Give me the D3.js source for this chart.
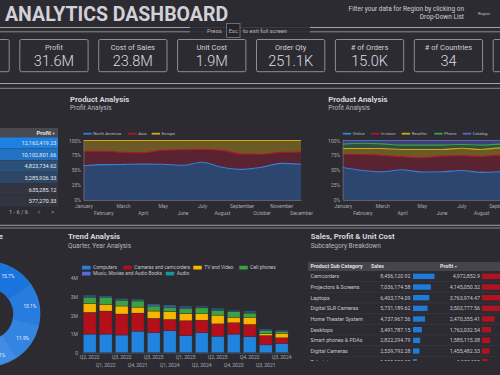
<!DOCTYPE html>
<html><head><meta charset="utf-8">
<script src="https://cdn.jsdelivr.net/npm/d3@7"></script>
<style>
html,body{margin:0;padding:0;background:#2c2b32;overflow:hidden}
svg{display:block;font-family:Roboto,"Noto Sans",sans-serif}
</style></head><body>
<svg id="c" width="500" height="375"></svg>
<script>
// ---------- DATA ----------
const kpiLabels = ["Profit","Cost of Sales","Unit Cost","Order Qty","# of Orders","# of Countries"];
const kpiValues = ["31.6M","23.8M","1.9M","251.1K","15.0K","34"];

const topProfit = [12162419.23, 10102801.66, 4823734.62, 3285926.33, 635285.12, 577270.33];

const months = ["January","February","March","April","May","June","July","August","September","October","November","December"];
const regionNames = ["North America","Asia","Europe"];
const northAmerica = [57.5, 59.5, 59.8, 60.3, 60.2, 58.3, 63.5, 55.0, 51.5, 55.0, 61.5, 60.0];
const asia         = [24.5, 22.5, 20.2, 19.2, 23.2, 26.2, 21.5, 28.4, 25.8, 22.0, 18.5, 20.7];
const europe       = [18.0, 18.0, 20.0, 20.5, 16.6, 15.5, 15.0, 16.6, 22.7, 23.0, 20.0, 19.3];

const channelNames = ["Online","In-store","Reseller","Phone","Catalog"];
const online   = [54.7, 49.7, 47.5, 50.8, 47.0, 47.5, 49.7, 46.4, 47.5, 48.2, 47.1, 48.9];
const inStore  = [22.3, 26.8, 27.4, 21.8, 24.0, 26.2, 24.6, 26.8, 27.9, 25.5, 26.4, 25.3];
const reseller = [ 9.6, 10.1, 11.7, 12.4, 14.0, 11.3, 12.7, 11.8, 12.3, 11.8, 12.0, 11.4];
const phone    = [ 7.3,  8.9,  7.8,  7.2,  7.2,  7.2,  6.3,  7.2,  6.2,  6.8,  7.0,  6.9];
const catalog  = [ 6.1,  4.5,  5.6,  7.8,  7.8,  7.8,  6.7,  7.8,  6.1,  7.7,  7.5,  7.5];

const donutShares = [15.7, 13.1, 11.9, 10.1, 9.8, 9.2, 8.6, 8.1, 7.4, 6.1];

const quarters = ["Q2, 2022","Q1, 2022","Q3, 2022","Q4, 2021","Q3, 2023","Q1, 2024","Q1, 2023","Q2, 2024","Q2, 2023","Q4, 2023","Q4, 2022","Q3, 2021","Q3, 2024"];
const productCats = ["Computers","Cameras and camcorders","TV and Video","Cell phones","Music, Movies and Audio Books","Audio"];
const computers = [1.00, 1.00, 0.95, 1.16, 1.08, 1.18, 0.91, 1.07, 0.89, 1.00, 0.86, 0.42, 0.50];
const cameras   = [1.17, 1.24, 1.13, 0.97, 0.77, 0.61, 0.81, 0.68, 0.66, 0.61, 0.66, 0.50, 0.30];
const tvVideo   = [0.48, 0.36, 0.43, 0.32, 0.39, 0.41, 0.39, 0.34, 0.47, 0.30, 0.39, 0.10, 0.25];
const cellPhones= [0.32, 0.36, 0.29, 0.33, 0.27, 0.24, 0.26, 0.32, 0.25, 0.30, 0.22, 0.17, 0.11];
const music     = [0.07, 0.05, 0.05, 0.05, 0.06, 0.07, 0.07, 0.04, 0.06, 0.03, 0.05, 0.04, 0.02];
const audio     = [0.04, 0.04, 0.05, 0.04, 0.05, 0.05, 0.05, 0.04, 0.05, 0.03, 0.05, 0.03, 0.02];
const barTicks = ["0","1M","2M","3M","4M"];

const subCategories = ["Camcorders","Projectors & Screens","Laptops","Digital SLR Cameras","Home Theater System","Desktops","Smart phones & PDAs","Digital Cameras","Televisions"];
const subSales  = [8456120.92, 7036174.58, 6403174.09, 5731189.62, 4737967.56, 3491787.15, 2822294.79, 2539792.28, 1500000.00];
const subProfit = [4972852.90, 4145050.32, 3763974.47, 3503777.56, 2470355.41, 1762032.54, 1585115.38, 1455482.33, 1100000.00];

// ---------- DRAW ----------
const svg = d3.select("#c");
const BG = "#2c2b32", TXT = "#d6d5dc", SUB = "#b9b8bf", AX = "#a9a8ae";
svg.append("rect").attr("width",500).attr("height",375).attr("fill",BG);

// header
svg.append("text").attr("x",5).attr("y",21).attr("fill","#d2d1d8").attr("font-size",19.5).attr("font-weight",700).text("ANALYTICS DASHBOARD");
svg.append("text").attr("x",464).attr("y",11).attr("text-anchor","end").attr("fill","#cfcfd4").attr("font-size",6.5).text("Filter your data for Region by clicking on");
svg.append("text").attr("x",464).attr("y",18.5).attr("text-anchor","end").attr("fill","#cfcfd4").attr("font-size",6.5).text("Drop-Down List");
svg.append("text").attr("x",478).attr("y",14.5).attr("fill","#bdbcc2").attr("font-size",4).text("Region");

function hline(y,c){svg.append("line").attr("x1",0).attr("x2",500).attr("y1",y).attr("y2",y).attr("stroke",c).attr("stroke-width",1);}
hline(27.5,"#a3a2a8"); hline(31.8,"#8e8d93");
hline(83.5,"#a3a2a8"); hline(88.3,"#88878d");
hline(225.3,"#a3a2a8"); hline(228,"#88878d");

// esc overlay
svg.append("rect").attr("x",190).attr("y",25).attr("width",120).attr("height",11).attr("fill","#2a292f").attr("opacity",0.85);
svg.append("text").attr("x",207).attr("y",33).attr("fill","#b5b4ba").attr("font-size",5.8).text("Press");
svg.append("rect").attr("x",226.7).attr("y",23.5).attr("width",13.3).attr("height",14).attr("fill","#242329").attr("stroke","#8a898f").attr("stroke-width",0.7);
svg.append("text").attr("x",233.3).attr("y",33).attr("text-anchor","middle").attr("fill","#b5b4ba").attr("font-size",5.8).text("Esc");
svg.append("text").attr("x",243).attr("y",33).attr("fill","#b5b4ba").attr("font-size",5.8).text("to exit full screen");

// KPI cards
const cardStep = 78.9, cardW = 68.3;
const cardX = i => 19.3 + cardStep*i;
[-1,6].forEach(i=>svg.append("rect").attr("x",cardX(i)+0.5).attr("y",39.5).attr("width",cardW).attr("height",32.2).attr("rx",1.5).attr("fill","none").attr("stroke","#8f8e95"));
kpiLabels.forEach((l,i)=>{
  const g = svg.append("g");
  g.append("rect").attr("x",cardX(i)+0.5).attr("y",39.5).attr("width",cardW).attr("height",32.2).attr("rx",1.5).attr("fill","none").attr("stroke","#8f8e95");
  g.append("text").attr("x",cardX(i)+cardW/2+0.5).attr("y",49.5).attr("text-anchor","middle").attr("fill","#d0cfd5").attr("font-size",7.5).text(l);
  g.append("text").attr("x",cardX(i)+cardW/2+0.5).attr("y",66).attr("text-anchor","middle").attr("fill","#dcdbe0").attr("font-size",14.5).attr("font-weight",300).text(kpiValues[i]);
});

// ---------- top-left table ----------
const rowH1 = 11.6, hdrY = 128;
svg.append("rect").attr("x",0).attr("y",hdrY).attr("width",58).attr("height",9.3).attr("fill","#4a4950");
svg.append("text").attr("x",51).attr("y",135.3).attr("text-anchor","end").attr("fill","#e2e1e6").attr("font-size",5.8).attr("font-weight",700).text("Profit");
svg.append("text").attr("x",55.5).attr("y",135.2).attr("text-anchor","end").attr("fill","#c9c8ce").attr("font-size",4).text("▼");
const heat = d3.scaleLinear().domain([d3.min(topProfit), d3.max(topProfit)]).range(["#33343f","#1e80e0"]);
const fmt2 = d3.format(",.2f");
topProfit.forEach((v,i)=>{
  const y = hdrY + 9.3 + i*rowH1;
  svg.append("rect").attr("x",0).attr("y",y).attr("width",58).attr("height",rowH1).attr("fill",heat(v));
  svg.append("line").attr("x1",0).attr("x2",58).attr("y1",y+rowH1).attr("y2",y+rowH1).attr("stroke","#2c2b32").attr("stroke-width",0.5);
  svg.append("text").attr("x",56.5).attr("y",y+rowH1/2+2).attr("text-anchor","end").attr("fill","#e6e6ea").attr("font-size",5.6).text(fmt2(v));
});
svg.append("text").attr("x",9).attr("y",214).attr("fill","#b3b2b8").attr("font-size",5.6).text("1 - 6 / 6");
svg.append("text").attr("x",37.5).attr("y",214).attr("fill","#8d8c92").attr("font-size",6).text("<");
svg.append("text").attr("x",51).attr("y",214).attr("fill","#a9a8ae").attr("font-size",6).text(">");

// ---------- area charts ----------
function titles(x,y,t,s){
  svg.append("text").attr("x",x).attr("y",y).attr("fill",TXT).attr("font-size",7.8).attr("font-weight",700).text(t);
  svg.append("text").attr("x",x).attr("y",y+8.2).attr("fill",SUB).attr("font-size",6.5).text(s);
}
titles(70,101.5,"Product Analysis","Profit Analysis");
titles(328.3,101.5,"Product Analysis","Profit Analysis");

function areaChart(x0, names, series, colors, legendX){
  const top = 140.5, bot = 200;
  const rows = months.map((m,i)=>{const o={month:m}; names.forEach((n,k)=>o[n]=series[k][i]); return o;});
  const stack = d3.stack().keys(names).offset(d3.stackOffsetExpand)(rows);
  const x = d3.scalePoint().domain(months).range([x0, x0+217.5]);
  const y = d3.scaleLinear().domain([0,1]).range([bot, top]);
  const g = svg.append("g");
  const area = d3.area().x(d=>x(d.data.month)).y0(d=>y(d[0])).y1(d=>y(d[1])).curve(d3.curveMonotoneX);
  const line = d3.line().x(d=>x(d.data.month)).y(d=>y(d[1])).curve(d3.curveMonotoneX);
  stack.forEach((s,k)=>{
    g.append("path").datum(s).attr("d",area).attr("fill",colors[k].f);
  });
  stack.forEach((s,k)=>{
    g.append("path").datum(s).attr("d",line).attr("fill","none").attr("stroke",colors[k].s).attr("stroke-width",1.1);
  });
  // axes
  const ya = d3.axisLeft(y).tickValues([0,0.25,0.5,0.75,1]).tickFormat(d3.format(".0%")).tickSize(0).tickPadding(2.5);
  const ga = g.append("g").attr("transform",`translate(${x0},0)`).call(ya);
  ga.select(".domain").attr("stroke","#6d6c73").attr("stroke-width",0.8);
  ga.selectAll("text").attr("fill",AX).attr("font-size",5).attr("font-family","Roboto");
  const xa = d3.axisBottom(x).tickSize(0).tickPadding(0);
  const gx = g.append("g").attr("transform",`translate(0,${bot})`).call(xa);
  gx.select(".domain").attr("stroke","#6d6c73").attr("stroke-width",0.8);
  gx.selectAll("text").attr("fill",AX).attr("font-size",5).attr("font-family","Roboto")
    .attr("dy",null).attr("y",(d,i)=> i%2===0 ? 7.8 : 14.5);
  // legend
  names.forEach((n,k)=>{
    svg.append("rect").attr("x",legendX[k]).attr("y",132.8).attr("width",8.4).attr("height",1.8).attr("fill",colors[k].s);
    svg.append("text").attr("x",legendX[k]+10).attr("y",135.2).attr("fill","#b9b8be").attr("font-size",4.3).text(n);
  });
}
const cBlue = {f:"#2c4670", s:"#3a7fd6"}, cRed = {f:"#5a2331", s:"#b3142a"}, cYel = {f:"#6c5a26", s:"#d2a81a"},
      cGrn = {f:"#2f5139", s:"#3ba34a"}, cPur = {f:"#3e4070", s:"#5b63c9"};
areaChart(83.5, regionNames, [northAmerica, asia, europe], [cBlue,cRed,cYel], [83.3,128.3,151.7]);
areaChart(342.7, channelNames, [online,inStore,reseller,phone,catalog], [cBlue,cRed,cYel,cGrn,cPur], [342.7,371,401.7,434.3,462.7]);

// ---------- donut ----------
svg.append("text").attr("x",3).attr("y",238.5).attr("text-anchor","end").attr("fill",TXT).attr("font-size",7.8).attr("font-weight",700).text("Category Share");
const pie = d3.pie().sort(null).value(d=>d)(donutShares);
const arc = d3.arc().innerRadius(26).outerRadius(52.5);
const lab = d3.arc().innerRadius(43).outerRadius(43);
const dcol = d3.scaleLinear().domain([0, donutShares.length-1]).range(["#1a74de","#8ec0f2"]);
const dg = svg.append("g").attr("transform","translate(-12.5,314)");
dg.selectAll("path").data(pie).join("path").attr("d",arc).attr("fill",(d,i)=>dcol(i)).attr("stroke","#4d96e6").attr("stroke-width",0.4);
dg.selectAll("text").data(pie).join("text").attr("transform",d=>`translate(${lab.centroid(d)})`).attr("text-anchor","middle").attr("dy","0.35em")
  .attr("fill","#eef4fb").attr("font-size",4.8).text(d=>d.data.toFixed(1)+"%");

// ---------- trend bars ----------
titles(68,239.3,"Trend Analysis","Quarter, Year Analysis");
const barColors = ["#2184dc","#b3101c","#f7b500","#3ba141","#5a6ad8","#13979c"];
const seriesB = [computers,cameras,tvVideo,cellPhones,music,audio];
const rowsB = quarters.map((q,i)=>{const o={q}; productCats.forEach((c,k)=>o[c]=seriesB[k][i]); return o;});
const stB = d3.stack().keys(productCats)(rowsB);
const xb = d3.scaleBand().domain(quarters).range([81.7,289.7]).paddingInner(0.2).paddingOuter(0.1);
const yb = d3.scaleLinear().domain([0,4]).range([352.7,278.3]);
const bg = svg.append("g");
stB.forEach((s,k)=>{
  bg.append("g").selectAll("rect").data(s).join("rect")
    .attr("x",d=>xb(d.data.q)).attr("width",xb.bandwidth())
    .attr("y",d=>yb(d[1])).attr("height",d=>Math.max(0,yb(d[0])-yb(d[1])))
    .attr("fill",barColors[k]).attr("stroke",BG).attr("stroke-width",0.35);
});
const yax = svg.append("g").attr("transform","translate(78,0)").call(d3.axisLeft(yb).tickValues([0,1,2,3,4]).tickFormat((d,i)=>barTicks[i]).tickSize(0).tickPadding(0));
yax.select(".domain").remove();
yax.selectAll("text").attr("fill",AX).attr("font-size",5).attr("font-family","Roboto");
const xax = svg.append("g").attr("transform","translate(0,352.7)").call(d3.axisBottom(xb).tickSize(0).tickPadding(0));
xax.select(".domain").attr("stroke","#5e5d64").attr("stroke-width",0.6);
xax.selectAll("text").attr("fill",AX).attr("font-size",5).attr("font-family","Roboto").attr("dy",null).attr("y",(d,i)=> i%2===0 ? 6.5 : 14);
const legPos = [[82,265.7],[123.3,265.7],[193.3,265.7],[239.3,265.7],[82,271.7],[165.7,271.7]];
productCats.forEach((c,k)=>{
  svg.append("rect").attr("x",legPos[k][0]).attr("y",legPos[k][1]).attr("width",8.5).attr("height",3.8).attr("rx",0.6).attr("fill",barColors[k]);
  svg.append("text").attr("x",legPos[k][0]+11).attr("y",legPos[k][1]+3.6).attr("fill","#c4c3c9").attr("font-size",4.9).text(c);
});

// ---------- sub category table ----------
titles(310.7,239.3,"Sales, Profit & Unit Cost","Subcategory Breakdown");
svg.append("defs").append("clipPath").attr("id","tclip").append("rect").attr("x",300).attr("y",255).attr("width",200).attr("height",106);
const tg = svg.append("g").attr("clip-path","url(#tclip)");
tg.append("rect").attr("x",308).attr("y",262).attr("width",192).attr("height",9).attr("fill","#46454d");
tg.append("text").attr("x",310.5).attr("y",268.4).attr("fill","#e0dfe4").attr("font-size",5.3).attr("font-weight",700).text("Product Sub Category");
tg.append("text").attr("x",371).attr("y",268.4).attr("fill","#e0dfe4").attr("font-size",5.3).attr("font-weight",700).text("Sales");
tg.append("text").attr("x",440).attr("y",268.4).attr("fill","#e0dfe4").attr("font-size",5.3).attr("font-weight",700).text("Profit");
tg.append("text").attr("x",454).attr("y",268.2).attr("fill","#c9c8ce").attr("font-size",3.6).text("▼");
const sx = d3.scaleLinear().domain([0,d3.max(subSales)]).range([0,21.5]);
const px = d3.scaleLinear().domain([0,d3.max(subProfit)]).range([0,25.4]);
const fmtP = d3.format(",.2~f");
const rH = 10.67;
subCategories.forEach((n,i)=>{
  const y0 = 271 + i*rH, cy = y0 + rH/2;
  tg.append("line").attr("x1",308).attr("x2",500).attr("y1",y0+rH).attr("y2",y0+rH).attr("stroke","#3c3b42").attr("stroke-width",0.6);
  tg.append("text").attr("x",310.5).attr("y",cy+1.9).attr("fill","#c8c7cd").attr("font-size",5.3).text(n);
  tg.append("text").attr("x",410.5).attr("y",cy+1.9).attr("text-anchor","end").attr("fill","#c8c7cd").attr("font-size",5.3).text(fmt2(subSales[i]));
  tg.append("rect").attr("x",413).attr("y",cy-2.7).attr("width",sx(subSales[i])).attr("height",5.4).attr("fill","#1f7bd8");
  tg.append("text").attr("x",480).attr("y",cy+1.9).attr("text-anchor","end").attr("fill","#c8c7cd").attr("font-size",5.3).text(fmtP(subProfit[i]));
  tg.append("rect").attr("x",482).attr("y",cy-2.7).attr("width",px(subProfit[i])).attr("height",5.4).attr("fill","#b3121f");
});
</script></body></html>
